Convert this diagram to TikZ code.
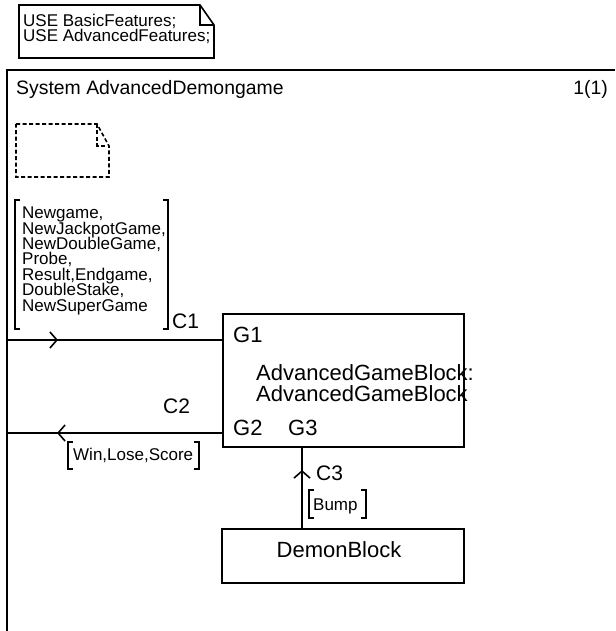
\documentclass[tikz,border=0pt]{standalone}
\usepackage{fontspec}
\setmainfont{Liberation Sans}
\usetikzlibrary{arrows.meta,decorations.markings}

\newcommand\tightlines{\lineskiplimit-20pt\relax}

\tikzset{
  blk/.style={draw, line width=1.6pt, inner sep=0pt},
  chan/.style={line width=1.6pt},
  brk/.style={line width=1.6pt},
  lbl/.style={inner sep=0pt, anchor=base west, font=\fontsize{21}{21}\selectfont},
  bigtxt/.style={inner sep=0pt, anchor=base west, align=left,
    font=\fontsize{22}{21}\selectfont\tightlines},
  sig/.style={inner sep=0pt, anchor=base west, align=left,
    font=\fontsize{17}{15.4}\selectfont\tightlines},
  chev/.style={decoration={markings,
      mark=at position #1 with {\arrow{Straight Barb[length=7pt,width=16pt]}}},
    postaction={decorate}},
}

\begin{document}
\begin{tikzpicture}[x=1pt, y=-1pt]
    \useasboundingbox (0,0) rectangle (615,631);

    % Nota USE
    \draw[brk] (19,5) -- (200,5) -- (214,25) -- (214,58) -- (19,58) -- cycle;
    \draw[brk] (200,5) -- (200,25) -- (214,25);
    \node[sig, anchor=north west] (uses) at (23,13.8) {USE BasicFeatures;\\USE AdvancedFeatures;};

    % Cornice sistema
    \draw[chan] (615,70) -- (7,70) -- (7,631);
    \node[lbl, font=\fontsize{19.4}{20}\selectfont] (title) at (16,95) {System AdvancedDemongame};
    \node[lbl, anchor=base east, font=\fontsize{19.4}{20}\selectfont] (page) at (608,95) {1(1)};

    % Nota tratteggiata
    \draw[brk, dash pattern=on 4pt off 2.5pt] (16,124) -- (97,124) -- (109,146) -- (109,177) -- (16,177) -- cycle;
    \draw[brk, dash pattern=on 4pt off 2.5pt] (97,124) -- (97,146) -- (109,146);

    % Segnali C1
    \node[sig, anchor=north west] (sigc1) at (22,206.8) {Newgame,\\NewJackpotGame,\\NewDoubleGame,\\Probe,\\Result,Endgame,\\DoubleStake,\\NewSuperGame};
    \draw[brk] (20,200) -- (15,200) -- (15,329) -- (20,329);
    \draw[brk] (163,200) -- (168,200) -- (168,329) -- (163,329);

    % Blocchi
    \node[blk, minimum width=241pt, minimum height=133pt, anchor=north west] (gameblk) at (222,313) {};
    \node[blk, minimum width=242pt, minimum height=54pt, anchor=north west] (demonblk) at (221,528) {};
    \node[bigtxt, anchor=north west] (gamename) at (256,364.2) {AdvancedGameBlock:\\AdvancedGameBlock};
    \node[bigtxt, anchor=base] (demonname) at (339,557) {DemonBlock};

    % Porte e canali
    \node[lbl, font=\fontsize{22}{22}\selectfont] (g1) at (233,342) {G1};
    \node[lbl, font=\fontsize{22}{22}\selectfont] (g2) at (233,435) {G2};
    \node[lbl, font=\fontsize{22}{22}\selectfont] (g3) at (288,435) {G3};
    \node[lbl] (c1) at (172,328) {C1};
    \node[lbl] (c2) at (163,413) {C2};
    \node[lbl] (c3) at (316,480) {C3};

    \coordinate (c1in) at (7,340);
    \coordinate (c2out) at (7,433);
    \draw[chan, chev=51pt] (c1in) -- (c1in -| gameblk.west);
    \draw[chan, chev=165pt] (c2out -| gameblk.west) -- (c2out);
    \draw[chan, chev=58pt] ([xshift=81pt]demonblk.north west) -- ([xshift=80pt]gameblk.south west);

    % Segnali C2, C3
    \node[sig] (sigc2) at (73,460) {Win,Lose,Score};
    \draw[brk] (73,442) -- (68,442) -- (68,469) -- (73,469);
    \draw[brk] (194,442) -- (199,442) -- (199,469) -- (194,469);
    \node[sig] (sigc3) at (313,510) {Bump};
    \draw[brk] (314,490) -- (309,490) -- (309,518) -- (314,518);
    \draw[brk] (361,490) -- (366,490) -- (366,518) -- (361,518);

\end{tikzpicture}
\end{document}
